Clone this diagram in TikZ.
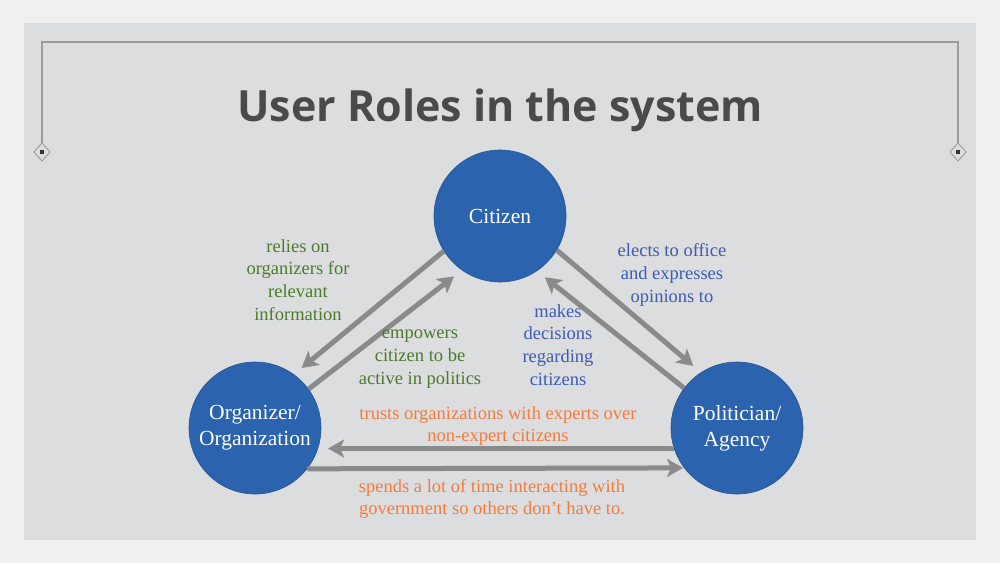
\documentclass[tikz,border=0pt]{standalone}
\usepackage{fontspec}
\setmainfont{Liberation Serif}
\newfontfamily\titlefont{Open Sans}
\usetikzlibrary{arrows.meta}
\definecolor{pagebg}{HTML}{F0F0F0}
\definecolor{panel}{HTML}{DCDDDF}
\definecolor{frameline}{HTML}{9A9A9C}
\definecolor{roleblue}{HTML}{2B63AE}
\definecolor{arrowgray}{HTML}{8A8A8A}
\definecolor{titlegray}{HTML}{4A4A4C}
\definecolor{lblgreen}{HTML}{4B7B2B}
\definecolor{lblblue}{HTML}{3D5BB2}
\definecolor{lblorange}{HTML}{F47B3E}
\begin{document}
\begin{tikzpicture}[x=1pt,y=-1pt,
  role/.style={circle, fill=roleblue, draw=roleblue!85!black, line width=0.6pt,
    minimum size=132pt, inner sep=0pt, text=white, align=center,
    font=\fontsize{21.5}{26}\selectfont},
  link/.style={draw=arrowgray, line width=5pt,
    -{Stealth[length=16pt,width=18pt,inset=4pt]}, shorten >=10pt},
  lbl/.style={align=center, inner sep=0pt, font=\fontsize{18.5}{22.8}\selectfont},
  marker/.style={draw=frameline, fill=panel, line width=0.8pt}
]
% page and slide panel
\fill[pagebg] (0,0) rectangle (1000,563);
\fill[panel] (24,23) rectangle (976,540);
\useasboundingbox (0,0) rectangle (1000,563);

% thin frame with diamond ends
\draw[frameline, line width=1.2pt] (42,143) -- (42,42) -- (958,42) -- (958,143);
\foreach \mx in {42,958} {
  \draw[marker] (\mx,143) -- (\mx+8,152) -- (\mx,161) -- (\mx-8,152) -- cycle;
  \fill[black!80] (\mx-1.6,150.4) rectangle (\mx+1.6,153.6);
}

% title
\node[text=titlegray, font=\titlefont\bfseries\fontsize{43}{50}\selectfont]
  (title) at (500,110) {User Roles in the system};

% roles
\node[role] (cit) at (500,216) {Citizen};
\node[role] (org) at (255,428) {Organizer/\\Organization};
\node[role] (pol) at (737,428) {Politician/\\Agency};

% relations
\draw[link] (cit.212) -- (org.54);
\draw[link] (org.36) -- (cit.235);
\draw[link] (cit.329) -- (pol.123);
\draw[link] (pol.143) -- (cit.304);
\draw[link] (pol.198) -- (org.342);
\draw[link, shorten >=1pt] (org.322.7) -- (pol.217.3);

% relation labels
\node[lbl, text=lblgreen] (l1) at (298,280) {relies on\\organizers for\\relevant\\information};
\node[lbl, text=lblgreen] (l2) at (420,359) {empowers\\citizen to be\\active in politics};
\node[lbl, text=lblblue] (l3) at (672,275) {elects to office\\and expresses\\opinions to};
\node[lbl, text=lblblue] (l4) at (558,345) {makes\\decisions\\regarding\\citizens};
\node[lbl, text=lblorange] (l5) at (498,426) {trusts organizations with experts over\\non-expert citizens};
\node[lbl, text=lblorange] (l6) at (492,499) {spends a lot of time interacting with\\government so others don’t have to.};
\end{tikzpicture}
\end{document}
